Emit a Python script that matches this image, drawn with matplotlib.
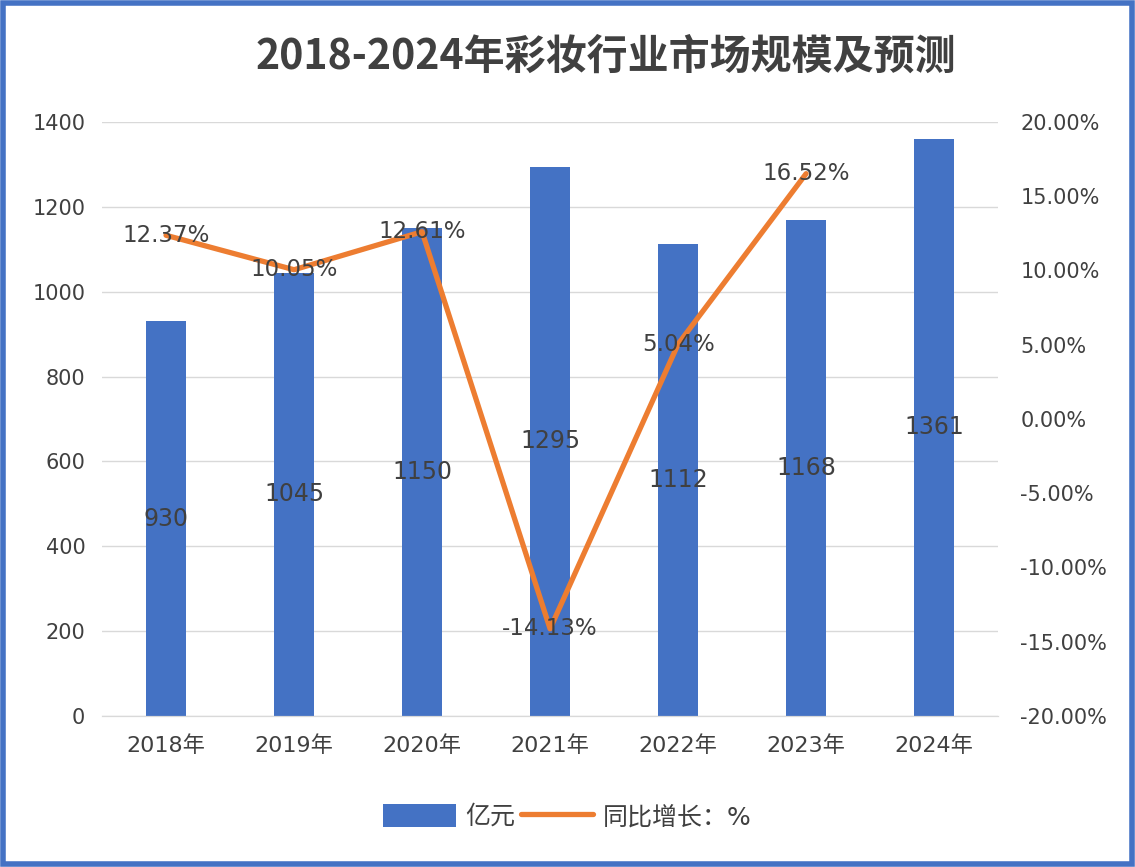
import matplotlib.pyplot as plt
import matplotlib.patches as patches
import numpy as np

plt.rcParams['font.family'] = ['DejaVu Sans', 'Noto Sans CJK SC']

# 数据
years = ["2018年", "2019年", "2020年", "2021年", "2022年", "2023年", "2024年"]
market_size = [930, 1045, 1150, 1295, 1112, 1168, 1361]
growth_pct = [12.37, 10.05, 12.61, -14.13, 5.04, 16.52]

bar_color = '#4472C4'
line_color = '#ED7D31'
text_color = '#404040'

fig = plt.figure(figsize=(11.35, 8.67), dpi=100)
ax = fig.add_axes([0.0899, 0.1742, 0.7895, 0.6851])
ax2 = ax.twinx()

x = np.arange(len(years))

# 柱状图
bars = ax.bar(x, market_size, width=0.31, color=bar_color, zorder=2, label='亿元')
ax.set_ylim(0, 1400)
ax.set_yticks(np.arange(0, 1401, 200))
ax.set_xlim(-0.5, len(years) - 0.5)
ax.set_xticks(x)
ax.set_xticklabels(years)
ax.grid(axis='y', color='#D9D9D9', linewidth=1, zorder=0)
ax.set_axisbelow(True)

for b, v in zip(bars, market_size):
    ax.text(b.get_x() + b.get_width() / 2, v / 2, f"{v}", ha='center', va='center',
            fontsize=17, color=text_color, zorder=5)

# 折线图
line, = ax2.plot(x[:len(growth_pct)], growth_pct, color=line_color, linewidth=3.8,
                 solid_capstyle='round', solid_joinstyle='round', zorder=3, label='同比增长：%')
ax2.set_ylim(-20, 20)
ax2.set_yticks(np.arange(-20, 20.1, 5))
ax2.set_yticklabels([f"{t:.2f}%" for t in np.arange(-20, 20.1, 5)])

for xi, v in zip(x, growth_pct):
    ax2.text(xi, v, f"{v:.2f}%", ha='center', va='center', fontsize=16.5,
             color=text_color, zorder=6)

for a in (ax, ax2):
    for s in ['top', 'left', 'right']:
        a.spines[s].set_visible(False)
    a.spines['bottom'].set_color('#D9D9D9')
    a.tick_params(length=0, colors=text_color, labelsize=15)
ax.tick_params(axis='y', pad=12)
ax.tick_params(axis='x', pad=14, labelsize=16)
ax2.tick_params(axis='y', pad=16)

# 标题
fig.text(0.534, 0.935, "2018-2024年彩妆行业市场规模及预测", ha='center', va='center',
         fontsize=29.5, fontweight='bold', color=text_color,
         family=['Noto Sans CJK SC', 'DejaVu Sans'])

# 图例
fig.legend(handles=[bars, line], labels=['亿元', '同比增长：%'], loc='center',
           bbox_to_anchor=(0.5, 0.058), ncol=2, frameon=False, fontsize=18,
           labelcolor=text_color, handlelength=2.9, handleheight=1.0, columnspacing=0.2,
           handletextpad=0.4)

# 外框
fig.patches.append(patches.Rectangle((0.003, 0.004), 0.994, 0.992, transform=fig.transFigure,
                                     fill=False, edgecolor=bar_color, linewidth=4))

fig.savefig("out.png", dpi=100)
